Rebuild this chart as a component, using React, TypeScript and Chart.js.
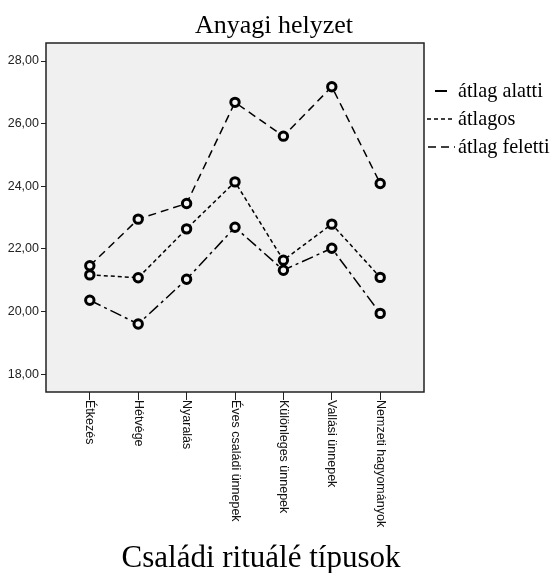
import { useEffect, useRef } from "react";
import { Chart, registerables } from "chart.js";

Chart.register(...registerables);

const categories = [
  "Étkezés",
  "Hétvége",
  "Nyaralás",
  "Éves családi ünnepek",
  "Különleges ünnepek",
  "Vallási ünnepek",
  "Nemzeti hagyományok",
];
const atlagAlatti = [20.36, 19.6, 21.03, 22.69, 21.32, 22.02, 19.94];
const atlagos = [21.17, 21.08, 22.64, 24.14, 21.64, 22.79, 21.09];
const atlagFeletti = [21.46, 22.95, 23.45, 26.68, 25.6, 27.18, 24.09];
const yTicks = [18, 20, 22, 24, 26, 28];
const seriesNames = ["átlag alatti", "átlagos", "átlag feletti"];
const chartTitle = "Anyagi helyzet";
const xTitle = "Családi rituálé típusok";

const dashAlatti = [12, 4, 3, 4];
const dashAtlagos = [4, 3];
const dashFeletti = [8, 5];

const toPoints = (vals: number[]) => vals.map((v, i) => ({ x: i, y: v }));

const decor = {
  id: "decor",
  beforeDraw(chart: any) {
    const { ctx, chartArea: a, width, height } = chart;
    ctx.save();
    ctx.fillStyle = "#ffffff";
    ctx.fillRect(0, 0, width, height);
    ctx.fillStyle = "#f0f0f0";
    ctx.fillRect(a.left, a.top, a.right - a.left, a.bottom - a.top);
    ctx.restore();
  },
  afterDraw(chart: any) {
    const { ctx, chartArea: a } = chart;
    ctx.save();
    // frame
    ctx.strokeStyle = "#222";
    ctx.lineWidth = 1.5;
    ctx.strokeRect(a.left, a.top, a.right - a.left, a.bottom - a.top);

    // x labels rotated (read top to bottom)
    const xs = chart.scales.x;
    ctx.font = '12.5px "Liberation Sans", Arial, sans-serif';
    ctx.fillStyle = "#111";
    categories.forEach((c, i) => {
      const px = xs.getPixelForValue(i);
      ctx.save();
      ctx.translate(px, a.bottom + 8);
      ctx.rotate(Math.PI / 2);
      ctx.textAlign = "left";
      ctx.textBaseline = "middle";
      ctx.fillText(c, 0, 0);
      ctx.restore();
    });

    // titles
    ctx.fillStyle = "#000";
    ctx.textAlign = "center";
    ctx.textBaseline = "alphabetic";
    ctx.font = '26px "Liberation Serif", "Times New Roman", serif';
    ctx.fillText(chartTitle, 274, 33);
    ctx.font = '31px "Liberation Serif", "Times New Roman", serif';
    ctx.fillText(xTitle, 261, 567);

    // legend
    const dashes = [[], dashAtlagos, dashFeletti];
    const baselines = [97, 125, 153];
    const symX = [[435, 447], [427, 453], [428, 455]];
    ctx.textAlign = "left";
    seriesNames.forEach((n, i) => {
      const y = baselines[i] - 6;
      ctx.beginPath();
      ctx.setLineDash(dashes[i] as number[]);
      ctx.lineWidth = i === 0 ? 2 : 1.4;
      ctx.strokeStyle = "#000";
      ctx.moveTo(symX[i][0], y);
      ctx.lineTo(symX[i][1], y);
      ctx.stroke();
      ctx.setLineDash([]);
      ctx.save();
      ctx.translate(458, baselines[i]);
      ctx.scale(0.92, 1);
      ctx.font = '22px "Liberation Serif", "Times New Roman", serif';
      ctx.fillText(n, 0, 0);
      ctx.restore();
    });
    ctx.restore();
  },
};

export default function App() {
  const ref = useRef<HTMLCanvasElement | null>(null);
  useEffect(() => {
    if (!ref.current) return;
    const common = {
      borderColor: "#000",
      borderWidth: 1.5,
      pointRadius: 4.2,
      pointBorderWidth: 3,
      pointBackgroundColor: "#f4f4f4",
      pointBorderColor: "#000",
      fill: false,
      tension: 0,
    };
    const chart = new Chart(ref.current, {
      type: "line",
      data: {
        datasets: [
          { ...common, label: seriesNames[0], data: toPoints(atlagAlatti), borderDash: dashAlatti },
          { ...common, label: seriesNames[1], data: toPoints(atlagos), borderDash: dashAtlagos },
          { ...common, label: seriesNames[2], data: toPoints(atlagFeletti), borderDash: dashFeletti },
        ],
      },
      options: {
        responsive: false,
        animation: false,
        events: [],
        layout: { padding: { top: 43, right: 129, left: 0, bottom: 0 } },
        plugins: { legend: { display: false }, tooltip: { enabled: false }, title: { display: false } },
        scales: {
          x: {
            type: "linear",
            min: -0.905,
            max: 6.905,
            afterBuildTicks: (s: any) => {
              s.ticks = categories.map((_, i) => ({ value: i }));
            },
            afterFit: (s: any) => {
              s.height = 181;
            },
            ticks: { display: false, autoSkip: false },
            grid: { drawOnChartArea: false, drawTicks: true, tickLength: 8, color: "#222", lineWidth: 1 },
            border: { display: false },
          },
          y: {
            type: "linear",
            min: 17.43,
            max: 28.575,
            afterBuildTicks: (s: any) => {
              s.ticks = yTicks.map((v) => ({ value: v }));
            },
            afterFit: (s: any) => {
              s.width = 46;
            },
            ticks: {
              autoSkip: false,
              padding: 2,
              color: "#222",
              font: { family: '"Liberation Sans", Arial, sans-serif', size: 12.5 },
              callback: (v: any) => Number(v).toFixed(2).replace(".", ","),
            },
            grid: { drawOnChartArea: false, drawTicks: true, tickLength: 5, color: "#222", lineWidth: 1 },
            border: { display: false },
          },
        },
      },
      plugins: [decor],
    } as any);
    return () => chart.destroy();
  }, []);
  return (
    <div style={{ position: "absolute", left: 0, top: 0 }}>
      <canvas ref={ref} width={553} height={573} style={{ display: "block" }} />
    </div>
  );
}
